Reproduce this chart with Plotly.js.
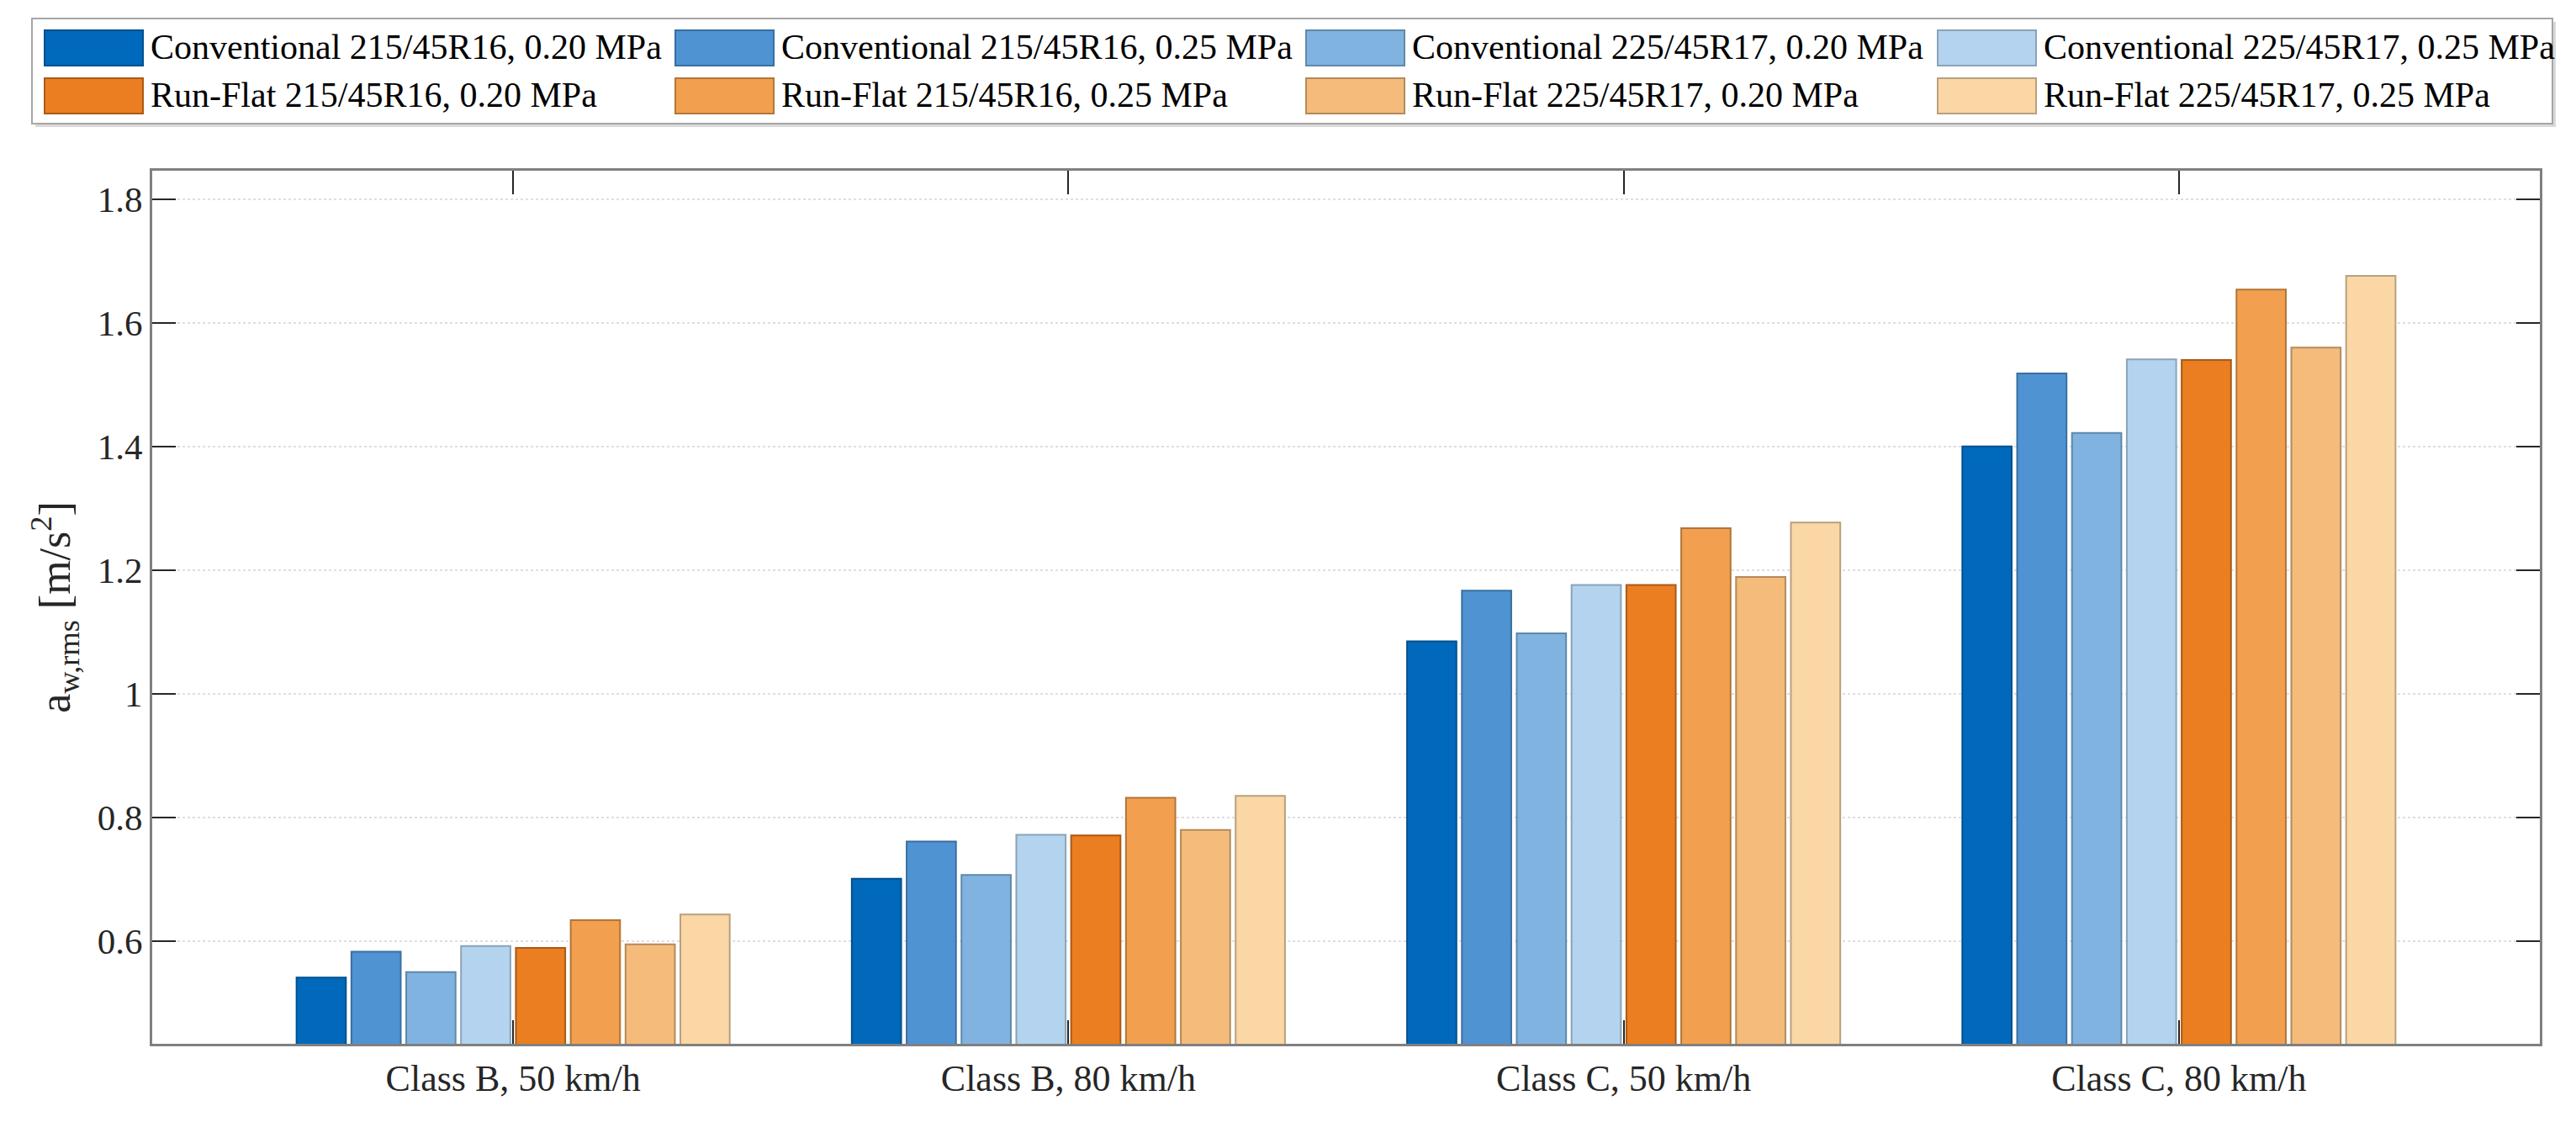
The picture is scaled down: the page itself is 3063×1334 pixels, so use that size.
<!DOCTYPE html>
<html>
<head>
<meta charset="utf-8">
<script src="https://cdn.plot.ly/plotly-3.0.1.min.js"></script>
<style>
  html, body { margin: 0; padding: 0; background: #ffffff; }
  #chart { width: 3063px; height: 1334px; }
</style>
</head>
<body>
<div id="chart"></div>
<script>
// categories on the x axis
let categories = ['Class B, 50 km/h', 'Class B, 80 km/h', 'Class C, 50 km/h', 'Class C, 80 km/h'];

// one array per tyre / pressure (a_w,rms in m/s^2)
let conv215_020 = [0.541, 0.701, 1.085, 1.400];
let conv215_025 = [0.583, 0.761, 1.167, 1.518];
let conv225_020 = [0.550, 0.707, 1.098, 1.422];
let conv225_025 = [0.592, 0.772, 1.176, 1.541];
let rf215_020 = [0.589, 0.771, 1.176, 1.540];
let rf215_025 = [0.634, 0.832, 1.268, 1.654];
let rf225_020 = [0.595, 0.780, 1.189, 1.560];
let rf225_025 = [0.643, 0.835, 1.277, 1.676];

let seriesNames = [
  'Conventional 215/45R16, 0.20 MPa', 'Conventional 215/45R16, 0.25 MPa',
  'Conventional 225/45R17, 0.20 MPa', 'Conventional 225/45R17, 0.25 MPa',
  'Run-Flat 215/45R16, 0.20 MPa', 'Run-Flat 215/45R16, 0.25 MPa',
  'Run-Flat 225/45R17, 0.20 MPa', 'Run-Flat 225/45R17, 0.25 MPa'
];
let seriesValues = [conv215_020, conv215_025, conv225_020, conv225_025,
                    rf215_020, rf215_025, rf225_020, rf225_025];

// colours (fill / edge)
let fillColors = ['#0069bb', '#4f93d3', '#80b3e0', '#b3d3ee',
                  '#ea7e21', '#f2a04f', '#f5bb7b', '#fbd7a5'];
let edgeColors = ['#00508e', '#3a6fa0', '#5f88ab', '#8aa3ba',
                  '#a95a17', '#b07638', '#b48a5a', '#b8a07e'];

const FONT = 'Liberation Serif, Times New Roman, serif';
const TEXT = '#262626';

// plot area in pixels, used to place the legend in paper coordinates
const W = 3063, H = 1334;
const M = {l: 181, r: 43, t: 203, b: 93};
const PW = W - M.l - M.r;
const PH = H - M.t - M.b;
function px(x) { return (x - M.l) / PW; }
function py(y) { return (H - M.b - y) / PH; }

let data = [];
for (let i = 0; i < seriesValues.length; i++)
{
  data.push({
    type: 'bar',
    name: seriesNames[i],
    x: categories,
    y: seriesValues[i],
    marker: {color: fillColors[i], line: {color: edgeColors[i], width: 2}},
    showlegend: false,
    hoverinfo: 'name+y'
  });
}

// legend drawn by hand : big swatches, 4 columns x 2 rows
let shapes = [];
let annotations = [];
shapes.push({type: 'rect', xref: 'paper', yref: 'paper',
  x0: px(42), x1: px(3039), y0: py(26), y1: py(151),
  line: {width: 0}, fillcolor: '#d9d9d9', layer: 'above'});
shapes.push({type: 'rect', xref: 'paper', yref: 'paper',
  x0: px(38), x1: px(3035), y0: py(22), y1: py(147),
  line: {color: '#a6a6a6', width: 2}, fillcolor: '#ffffff', layer: 'above'});

let colX = [53, 803, 1553, 2304];
let rowY = [36, 93];
for (let i = 0; i < seriesNames.length; i++)
{
  let c = i % 4;
  let r = Math.floor(i / 4);
  shapes.push({type: 'rect', xref: 'paper', yref: 'paper',
    x0: px(colX[c]), x1: px(colX[c] + 117), y0: py(rowY[r]), y1: py(rowY[r] + 42),
    line: {color: edgeColors[i], width: 2}, fillcolor: fillColors[i], layer: 'above'});
  annotations.push({xref: 'paper', yref: 'paper',
    x: px(colX[c] + 124), y: py(rowY[r] + 20),
    xanchor: 'left', yanchor: 'middle', showarrow: false,
    text: seriesNames[i], font: {family: FONT, size: 42, color: '#000000'}});
}

let layout =
{
  width: W,
  height: H,
  margin: M,
  paper_bgcolor: '#ffffff',
  plot_bgcolor: '#ffffff',
  font: {family: FONT, color: TEXT},
  barmode: 'group',
  bargap: 0.21,
  bargroupgap: 0.1,
  xaxis:
  {
    type: 'category',
    range: [-0.65, 3.65],
    autorange: false,
    showline: true,
    linecolor: '#808080',
    linewidth: 3,
    mirror: 'ticks',
    ticks: 'inside',
    ticklen: 28,
    tickwidth: 2,
    tickcolor: '#262626',
    tickfont: {family: FONT, size: 44, color: TEXT},
    ticklabelstandoff: 0,
    showgrid: false
  },
  yaxis:
  {
    range: [0.434, 1.846],
    autorange: false,
    tick0: 0,
    dtick: 0.2,
    showline: true,
    linecolor: '#808080',
    linewidth: 3,
    mirror: 'ticks',
    ticks: 'inside',
    ticklen: 28,
    tickwidth: 2,
    tickcolor: '#262626',
    tickfont: {family: FONT, size: 43, color: TEXT},
    ticklabelstandoff: 0,
    showgrid: true,
    gridcolor: '#dedede',
    gridwidth: 2,
    griddash: 'dot',
    zeroline: false,
    title: {text: 'a<sub>w,rms</sub> [m/s<sup>2</sup>]',
            font: {family: FONT, size: 52, color: TEXT}, standoff: 16}
  },
  shapes: shapes,
  annotations: annotations,
  hovermode: 'closest'
};

Plotly.newPlot('chart', data, layout, {displayModeBar: false, responsive: false});
</script>
</body>
</html>
